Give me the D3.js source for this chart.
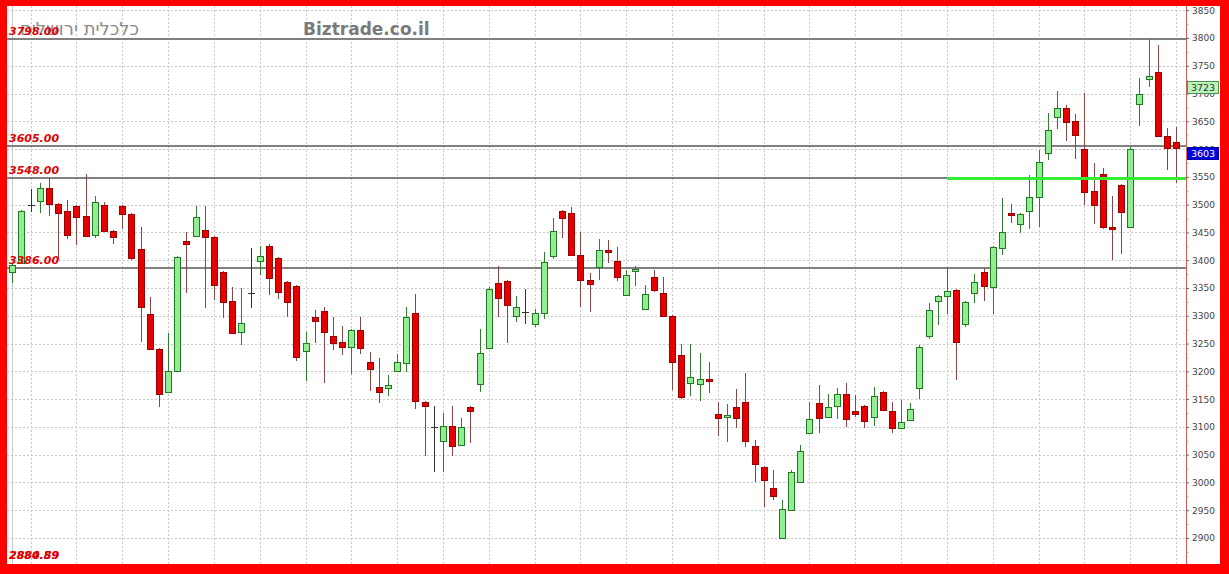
<!DOCTYPE html>
<html><head><meta charset="utf-8">
<script src="https://cdn.jsdelivr.net/npm/d3@7"></script>
<style>html,body{margin:0;padding:0;background:#fff;} svg{display:block}</style>
</head><body>
<svg id="c" width="1229" height="574"></svg>
<script>
// ---- data ----
const opens  = [3379,3395,3499,3507,3530,3501,3489,3498,3480,3445,3499,3453,3498,3483,3420,3303,3240,3163,3201,3435,
                3444,3454,3442,3379,3327,3271,3341,3399,3426,3404,3361,3354,3237,3298,3309,3264,3253,3244,3274,3217,
                3172,3170,3201,3215,3305,3145,3100,3075,3102,3067,3136,3177,3242,3359,3363,3300,3307,3285,3305,3408,
                3489,3485,3409,3364,3388,3418,3399,3337,3381,3312,3370,3341,3300,3229,3179,3177,3187,3123,3119,3136,
                3145,3066,3028,2990,2900,2950,3001,3089,3143,3118,3138,3159,3129,3138,3118,3163,3129,3098,3112,3170,
                3264,3327,3336,3347,3285,3341,3379,3352,3422,3485,3465,3489,3514,3593,3658,3674,3651,3600,3525,3555,
                3460,3535,3460,3681,3726,3739,3624,3613];
const highs  = [3395,3491,3528,3539,3548,3503,3508,3499,3555,3516,3505,3455,3500,3485,3460,3334,3242,3269,3408,3451,
                3498,3498,3444,3381,3352,3350,3422,3426,3429,3406,3363,3356,3271,3310,3316,3298,3282,3276,3298,3235,
                3224,3193,3231,3316,3339,3146,3138,3125,3138,3116,3137,3276,3352,3390,3364,3336,3348,3312,3415,3476,
                3490,3496,3451,3377,3438,3436,3424,3382,3390,3355,3382,3370,3302,3249,3249,3233,3217,3145,3141,3168,
                3197,3076,3030,3022,2968,3022,3067,3145,3175,3159,3170,3179,3157,3140,3172,3165,3145,3148,3143,3248,
                3323,3338,3386,3349,3327,3375,3386,3426,3512,3501,3485,3553,3598,3665,3705,3679,3663,3701,3575,3566,
                3516,3537,3604,3728,3798,3787,3638,3640];
const lows   = [3359,3393,3487,3485,3480,3400,3438,3427,3442,3440,3451,3429,3456,3400,3253,3238,3136,3162,3200,3341,
                3443,3314,3328,3296,3268,3247,3314,3373,3337,3330,3298,3219,3183,3251,3179,3238,3229,3195,3231,3165,
                3143,3156,3199,3199,3132,3048,3019,3019,3048,3066,3071,3163,3240,3298,3251,3289,3285,3280,3294,3402,
                3440,3407,3316,3307,3364,3395,3363,3335,3354,3310,3343,3299,3166,3150,3156,3147,3161,3084,3073,3098,
                3064,3000,2956,2968,2899,2948,3000,3087,3089,3116,3114,3100,3118,3098,3102,3128,3089,3096,3110,3150,
                3258,3283,3303,3184,3280,3323,3327,3303,3409,3467,3449,3456,3460,3580,3636,3615,3582,3499,3465,3456,
                3400,3411,3459,3642,3712,3622,3562,3539];
const closes = [3391,3489,3499,3530,3501,3485,3445,3478,3444,3505,3453,3442,3483,3404,3316,3240,3159,3201,3406,3429,
                3478,3442,3355,3325,3269,3287,3341,3408,3368,3343,3325,3226,3251,3291,3271,3251,3244,3274,3242,3204,
                3163,3175,3217,3298,3147,3138,3100,3102,3066,3100,3129,3233,3348,3332,3319,3316,3307,3305,3397,3453,
                3476,3409,3364,3357,3418,3415,3370,3373,3384,3339,3346,3300,3217,3154,3190,3186,3185,3116,3121,3116,
                3075,3033,3004,2976,2952,3019,3057,3114,3116,3136,3159,3114,3123,3111,3156,3130,3098,3109,3132,3244,
                3310,3336,3345,3253,3325,3361,3354,3424,3451,3483,3483,3514,3577,3634,3674,3649,3625,3523,3499,3460,
                3456,3487,3600,3699,3731,3624,3602,3603];
const levelValues = [3798, 3605, 3548, 3386];
const levelLabels = ["3798.00", "3605.00", "3548.00", "3386.00"];
const bottomLabels = ["2884.89", "2880.59"];
const trendValue = 3547;
const trendStart = 102;
const tickValues = d3.range(2900, 3851, 50);
const minorTicks = d3.range(2875, 3851, 50);
const markers = [{v: 3723, label: "3723", fill: "#b8f5b8", stroke: "#4f8f4f", text: "#333"},
                 {v: 3603, label: "3603", fill: "#0000dd", stroke: "#0000aa", text: "#fff"}];

// ---- layout ----
const W = 1229, H = 574;
const plot = {l: 7, r: 1186, t: 6, b: 564};
const svg = d3.select("#c");
svg.append("rect").attr("width", W).attr("height", H).attr("fill", "#ff0000");
svg.append("rect").attr("x", 7).attr("y", 6).attr("width", 1213).attr("height", 558).attr("fill", "#fff");

const y = d3.scaleLinear().domain([2900, 3800]).range([538, 38]);
const x = d3.scalePoint().domain(d3.range(opens.length)).range([12.3, 1176]);
const px = v => Math.round(v) + 0.5;

svg.append("defs").append("clipPath").attr("id", "clip")
  .append("rect").attr("x", plot.l).attr("y", plot.t).attr("width", plot.r - plot.l).attr("height", plot.b - plot.t);

const g = svg.append("g").attr("clip-path", "url(#clip)");

// grid
g.append("g").selectAll("line").data(tickValues).join("line")
  .attr("x1", plot.l).attr("x2", plot.r)
  .attr("y1", d => px(y(d))).attr("y2", d => px(y(d)))
  .attr("stroke", "#c8c8c8").attr("stroke-dasharray", "2,2");
const vIdx = d3.range(opens.length).filter(i => i % 5 === 2);
g.append("g").selectAll("line").data(vIdx).join("line")
  .attr("x1", i => px(x(i))).attr("x2", i => px(x(i)))
  .attr("y1", plot.t).attr("y2", plot.b)
  .attr("stroke", "#c8c8c8").attr("stroke-dasharray", "2,2");
g.append("line").attr("x1", px(x(0))).attr("x2", px(x(0))).attr("y1", plot.t).attr("y2", plot.b)
  .attr("stroke", "#c8c8c8");

// level lines
g.append("g").selectAll("line").data(levelValues).join("line")
  .attr("x1", plot.l).attr("x2", plot.r)
  .attr("y1", d => Math.round(y(d))).attr("y2", d => Math.round(y(d)))
  .attr("stroke", "#808080").attr("stroke-width", 2);

// candles
const data = opens.map((o, i) => ({i, o, h: highs[i], l: lows[i], c: closes[i]}));
const upFill = "#90ee90", upStroke = "#217a21", upWick = "#2f7f2f";
const dnFill = "#e60000", dnStroke = "#990000", dnWick = "#8a4545";
const cg = g.append("g");
cg.selectAll("line.wick").data(data).join("line").attr("class", "wick")
  .attr("x1", d => px(x(d.i))).attr("x2", d => px(x(d.i)))
  .attr("y1", d => Math.round(y(d.h))).attr("y2", d => Math.round(y(d.l)))
  .attr("stroke", d => d.c > d.o ? upWick : (d.c < d.o ? dnWick : "#333"));
cg.selectAll("rect.body").data(data.filter(d => d.o !== d.c)).join("rect").attr("class", "body")
  .attr("x", d => Math.round(x(d.i)) - 2.5)
  .attr("width", 6)
  .attr("y", d => Math.round(y(Math.max(d.o, d.c))) + 0.5)
  .attr("height", d => Math.max(2, Math.round(Math.abs(y(d.o) - y(d.c)))))
  .attr("fill", d => d.c > d.o ? upFill : dnFill)
  .attr("stroke", d => d.c > d.o ? upStroke : dnStroke);
cg.selectAll("line.doji").data(data.filter(d => d.o === d.c)).join("line").attr("class", "doji")
  .attr("x1", d => Math.round(x(d.i)) - 3).attr("x2", d => Math.round(x(d.i)) + 4)
  .attr("y1", d => px(y(d.o))).attr("y2", d => px(y(d.o)))
  .attr("stroke", "#333");

// trend line
g.append("line").attr("x1", x(trendStart)).attr("x2", plot.r)
  .attr("y1", y(trendValue)).attr("y2", y(trendValue))
  .attr("stroke", "#33ee33").attr("stroke-width", 3);

// texts
svg.append("text").attr("x", 139).attr("y", 35).attr("text-anchor", "end")
  .attr("font-family", "DejaVu Sans").attr("font-size", 18).attr("fill", "#8a8a8a")
  .text("כלכלית ירושלים");
svg.append("text").attr("x", 303).attr("y", 35)
  .attr("font-family", "DejaVu Sans").attr("font-weight", "bold").attr("font-size", 17).attr("fill", "#7a7a7a")
  .text("Biztrade.co.il");
const lbl = svg.append("g").attr("font-family", "DejaVu Sans").attr("font-weight", "bold")
  .attr("font-style", "italic").attr("font-size", 11).attr("fill", "#e00000");
lbl.selectAll("text.lv").data(levelValues).join("text").attr("class", "lv")
  .attr("x", 9).attr("y", d => Math.round(y(d)) - 4).text((d, i) => levelLabels[i]);
lbl.selectAll("text.bt").data(bottomLabels).join("text").attr("class", "bt")
  .attr("x", 9).attr("y", 559).text(d => d);

// right axis
svg.append("line").attr("x1", 1186.5).attr("x2", 1186.5).attr("y1", plot.t).attr("y2", plot.b)
  .attr("stroke", "#e05a5a");
const axis = svg.append("g").attr("transform", "translate(1186,0)")
  .call(d3.axisRight(y).tickValues(tickValues).tickSize(3).tickPadding(3).tickFormat(d3.format("d")));
axis.select(".domain").remove();
axis.selectAll("text").attr("font-family", "DejaVu Sans").attr("font-size", 9).attr("fill", "#444");
axis.selectAll("line").attr("stroke", "#666");
const axis2 = svg.append("g").attr("transform", "translate(1186,0)")
  .call(d3.axisRight(y).tickValues(minorTicks).tickSize(2).tickFormat(""));
axis2.select(".domain").remove();
axis2.selectAll("line").attr("stroke", "#888");

// price markers
const mk = svg.append("g").selectAll("g").data(markers).join("g")
  .attr("transform", d => `translate(1187,${Math.round(y(d.v))})`);
mk.append("rect").attr("x", 0.5).attr("y", 0.5).attr("width", 31).attr("height", 12)
  .attr("fill", d => d.fill).attr("stroke", d => d.stroke);
mk.append("text").attr("x", 16).attr("y", 10).attr("text-anchor", "middle")
  .attr("font-family", "DejaVu Sans").attr("font-size", 9.5).attr("fill", d => d.text).text(d => d.label);
</script>
</body></html>
